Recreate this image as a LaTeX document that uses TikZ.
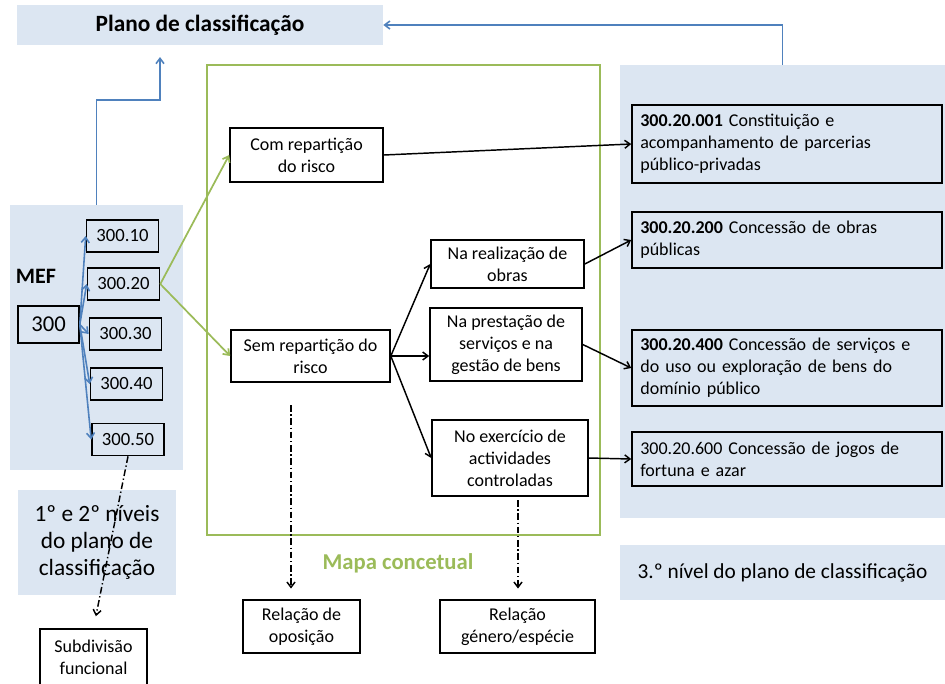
\documentclass[tikz,border=0pt]{standalone}
\usepackage{fontspec}
\setmainfont{Carlito}
\usetikzlibrary{arrows.meta}

\definecolor{panelblue}{RGB}{220,230,242}
\definecolor{lineblue}{RGB}{79,129,189}
\definecolor{mapgreen}{RGB}{155,187,89}

\tikzset{
	panel/.style={fill=panelblue, inner sep=0pt, align=center},
	box/.style={draw, line width=1.2pt, inner sep=0pt, align=center, font=\fontsize{13.5}{16.5}\selectfont},
	codebox/.style={box, minimum width=54pt, minimum height=24pt, font=\fontsize{14}{16}\selectfont},
	planbox/.style={draw, line width=1.2pt, inner xsep=6pt, inner ysep=0pt, text width=220pt, align=left, minimum width=232.5pt, font=\fontsize{13.5}{16.5}\selectfont},
	tip/.style={-{Straight Barb[length=4pt, width=6pt]}},
	blueline/.style={tip, draw=lineblue, line width=1.2pt},
	greenline/.style={tip, draw=mapgreen, line width=1.3pt},
	linkarrow/.style={tip, line width=1.1pt},
	relarrow/.style={tip, line width=1.1pt, dash pattern=on 5pt off 2pt on 1pt off 2pt}
}

\begin{document}
\begin{tikzpicture}[x=0.75pt, y=-0.75pt]
	\useasboundingbox (0,0) rectangle (945,683);

	% panels
	\node[panel, minimum width=274.5pt, minimum height=30pt, font=\bfseries\fontsize{17.5}{20}\selectfont] (plano) at (200,25) {Plano de classificação};
	\node[panel, minimum width=129.75pt, minimum height=198.75pt] (mef) at (96.5,337.5) {};
	\node[panel, minimum width=243.75pt, minimum height=339.75pt] (terceiro) at (782.5,291.5) {};
	\node[panel, minimum width=243.75pt, minimum height=41.25pt, font=\fontsize{16}{18}\selectfont] (terclbl) at (782.5,572.5) {3.º nível do plano de classificação};
	\node[panel, minimum width=118.5pt, minimum height=78.75pt, font=\fontsize{17.5}{20}\selectfont] (niveis) at (97,542.5) {1º e 2º níveis\\do plano de\\classificação};
	\node[draw=mapgreen, line width=1.1pt, minimum width=294.75pt, minimum height=352.5pt] (mapa) at (403.5,300) {};
	\node[text=mapgreen, font=\bfseries\fontsize{17}{20}\selectfont] (mapalbl) at (398,563) {Mapa concetual};

	% MEF
	\node[font=\bfseries\fontsize{16.5}{18}\selectfont] (meflbl) at (36,276) {MEF};
	\node[box, minimum width=45.75pt, minimum height=27.75pt, font=\fontsize{17}{18}\selectfont] (b300) at (48.5,324.5) {300};
	\node[codebox] (b10) at (122.5,236) {300.10};
	\node[codebox] (b20) at (123.5,284) {300.20};
	\node[codebox] (b30) at (125.5,334) {300.30};
	\node[codebox] (b40) at (126.5,384) {300.40};
	\node[codebox] (b50) at (128,439.5) {300.50};
	\node[box, anchor=north, minimum width=80.25pt, minimum height=42.5pt] (subdiv) at (93.5,628) {Subdivisão\\funcional};

	% mapa concetual
	\node[box, minimum width=114.75pt, minimum height=40.5pt] (com) at (306.5,155) {Com repartição\\do risco};
	\node[box, minimum width=119.25pt, minimum height=39pt] (sem) at (310.5,356) {Sem repartição do\\risco};
	\node[box, minimum width=114.75pt, minimum height=36pt] (obras) at (507.5,264) {Na realização de\\obras};
	\node[box, minimum width=114pt, minimum height=54.75pt] (prest) at (506,344.5) {Na prestação de\\serviços e na\\gestão de bens};
	\node[box, minimum width=117pt, minimum height=57pt] (exerc) at (510,458) {No exercício de\\actividades\\controladas};
	\node[box, minimum width=87.75pt, minimum height=39.75pt] (opos) at (301.5,626.5) {Relação de\\oposição};
	\node[box, minimum width=116.25pt, minimum height=39.75pt] (genero) at (517.5,626.5) {Relação\\género/espécie};

	% 3.º nivel
	\node[planbox, minimum height=58.5pt] (r001) at (787,144) {\textbf{300.20.001} Constituição e\\acompanhamento de parcerias\\público-privadas};
	\node[planbox, minimum height=42pt] (r200) at (787,240) {\textbf{300.20.200} Concessão de obras\\públicas};
	\node[planbox, minimum height=57pt] (r400) at (787,368) {\textbf{300.20.400} Concessão de serviços e\\do uso ou exploração de bens do\\domínio público};
	\node[planbox, minimum height=40.5pt] (r600) at (787,459) {300.20.600 Concessão de jogos de\\fortuna e azar};

	% connectors
	\coordinate (planoin) at (160,57);
	\draw[blueline] (mef.north) -- ++(0,-105) -| (planoin);
	\draw[blueline] (terceiro.north) |- (plano.east);
	\foreach \b in {b10,b20,b30,b40,b50}
		\draw[blueline] (b300.east) -- (\b.west);
	\draw[greenline] (b20.east) -- (com.west);
	\draw[greenline] (b20.east) -- (sem.west);

	\draw[linkarrow] (com.east) -- (r001.west);
	\draw[linkarrow] (sem.east) -- (obras.west);
	\draw[linkarrow] (sem.east) -- (prest.west |- sem.east);
	\draw[linkarrow] (sem.east) -- (exerc.west);
	\draw[linkarrow] (obras.east) -- (r200.west);
	\draw[linkarrow] (prest.east) -- (r400.west);
	\draw[linkarrow] (exerc.east) -- (r600.west);

	\coordinate (opstart) at (291,405);
	\coordinate (genstart) at (518,500);
	\draw[relarrow, shorten >=9pt] (b50.south) -- (subdiv.north);
	\draw[relarrow, shorten >=8pt] (opstart) -- (opstart |- opos.north);
	\draw[relarrow, shorten >=8pt] (genstart) -- (genstart |- genero.north);
\end{tikzpicture}
\end{document}
